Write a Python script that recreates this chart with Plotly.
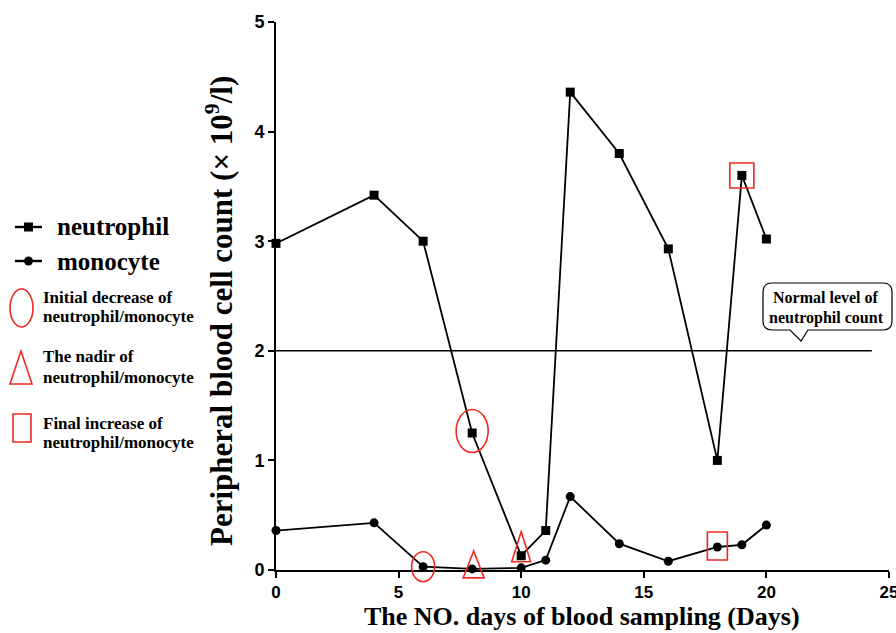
import plotly.graph_objects as go

# ---- data ----
days = [0, 4, 6, 8, 10, 11, 12, 14, 16, 18, 19, 20]
neutrophil = [2.98, 3.42, 3.00, 1.25, 0.13, 0.36, 4.36, 3.80, 2.93, 1.00, 3.60, 3.02]
monocyte = [0.36, 0.43, 0.03, 0.01, 0.02, 0.09, 0.67, 0.24, 0.08, 0.21, 0.23, 0.41]
normal_level = 2.0
normal_end = 24.3
x_range = [0, 25]
y_range = [0, 5]
x_ticks = [0, 5, 10, 15, 20, 25]
y_ticks = [0, 1, 2, 3, 4, 5]

# highlights: (series, day)
initial_decrease = [("monocyte", 6), ("neutrophil", 8)]
nadir = [("monocyte", 8), ("neutrophil", 10)]
final_increase = [("monocyte", 18), ("neutrophil", 19)]

series = {"neutrophil": neutrophil, "monocyte": monocyte}
def val(s, d):
    return series[s][days.index(d)]

# page body margin is removed by post_script, so figure fills the window
W, H = 896, 633
# plot area in window pixels
L, R, T, B = 276, 889, 22, 570
def px(x):
    return (x - L) / (R - L)
def py(y):
    return (B - y) / (B - T)
# data -> paper fraction
def dxp(d):
    return (d - x_range[0]) / (x_range[1] - x_range[0])
def dyp(v):
    return (v - y_range[0]) / (y_range[1] - y_range[0])
PW, PH = R - L, B - T

RED = "#ee2a24"
SERIF = "Liberation Serif"
SANS = "Liberation Sans"

fig = go.Figure()
fig.add_trace(go.Scatter(x=days, y=neutrophil, mode="lines+markers", name="neutrophil",
                         line=dict(color="black", width=1.8),
                         marker=dict(symbol="square", size=9, color="black"),
                         cliponaxis=False))
fig.add_trace(go.Scatter(x=days, y=monocyte, mode="lines+markers", name="monocyte",
                         line=dict(color="black", width=1.8),
                         marker=dict(symbol="circle", size=9, color="black"),
                         cliponaxis=False))

shapes = []
# normal level line
shapes.append(dict(type="line", xref="x", yref="y", x0=0, x1=normal_end, y0=normal_level,
                   y1=normal_level, line=dict(color="black", width=1.5)))

# red highlight shapes (offsets in pixels around the data point)
ell_sizes = [(23, 30, 0), (32, 43, 2)]
for (s, d), (w, h, dy) in zip(initial_decrease, ell_sizes):
    cx, cy = dxp(d), dyp(val(s, d))
    shapes.append(dict(type="circle", xref="paper", yref="paper",
                       x0=cx - w/2/PW, x1=cx + w/2/PW, y0=cy + (dy - h/2)/PH, y1=cy + (dy + h/2)/PH,
                       line=dict(color=RED, width=1.6)))
tri_sizes = [(21, -9, 18, 1.5), (19, -6, 24, 0)]
for (s, d), (w, b, t, dx) in zip(nadir, tri_sizes):
    cx, cy = dxp(d) + dx/PW, dyp(val(s, d))
    path = (f"M {cx - w/2/PW},{cy + b/PH} L {cx + w/2/PW},{cy + b/PH} "
            f"L {cx},{cy + t/PH} Z")
    shapes.append(dict(type="path", xref="paper", yref="paper", path=path,
                       line=dict(color=RED, width=1.6)))
sq_sizes = [(20, 28, 1), (24, 25, 0)]
for (s, d), (w, h, dy) in zip(final_increase, sq_sizes):
    cx, cy = dxp(d), dyp(val(s, d))
    shapes.append(dict(type="rect", xref="paper", yref="paper",
                       x0=cx - w/2/PW, x1=cx + w/2/PW, y0=cy + (dy - h/2)/PH, y1=cy + (dy + h/2)/PH,
                       line=dict(color=RED, width=1.6)))

# legend symbols (paper coords)
for yy, sym in [(227, "square"), (261, "circle")]:
    shapes.append(dict(type="line", xref="paper", yref="paper", x0=px(15), x1=px(42),
                       y0=py(yy), y1=py(yy), line=dict(color="black", width=2.4)))
    shapes.append(dict(type="rect" if sym == "square" else "circle", xref="paper", yref="paper",
                       x0=px(24), x1=px(33), y0=py(yy + 4.5), y1=py(yy - 4.5),
                       fillcolor="black", line=dict(color="black", width=0)))
shapes.append(dict(type="circle", xref="paper", yref="paper", x0=px(10), x1=px(33),
                   y0=py(327), y1=py(289), line=dict(color=RED, width=1.6)))
shapes.append(dict(type="path", xref="paper", yref="paper",
                   path=f"M {px(10)},{py(384)} L {px(32)},{py(384)} L {px(21)},{py(351)} Z",
                   line=dict(color=RED, width=1.6)))
shapes.append(dict(type="rect", xref="paper", yref="paper", x0=px(13), x1=px(31),
                   y0=py(442), y1=py(414), line=dict(color=RED, width=1.6)))

# callout box
bx0, bx1, by0, by1, r = 763, 892, 283, 330, 9
tipx, tipy = 801, 341
pts = [
    f"M {px(bx0 + r)},{py(by0)}",
    f"L {px(bx1 - r)},{py(by0)}",
    f"Q {px(bx1)},{py(by0)} {px(bx1)},{py(by0 + r)}",
    f"L {px(bx1)},{py(by1 - r)}",
    f"Q {px(bx1)},{py(by1)} {px(bx1 - r)},{py(by1)}",
    f"L {px(808)},{py(by1)}",
    f"L {px(tipx)},{py(tipy)}",
    f"L {px(790)},{py(by1)}",
    f"L {px(bx0 + r)},{py(by1)}",
    f"Q {px(bx0)},{py(by1)} {px(bx0)},{py(by1 - r)}",
    f"L {px(bx0)},{py(by0 + r)}",
    f"Q {px(bx0)},{py(by0)} {px(bx0 + r)},{py(by0)} Z",
]
shapes.append(dict(type="path", xref="paper", yref="paper", path=" ".join(pts),
                   fillcolor="white", line=dict(color="black", width=1.2)))

annotations = []
def txt(x, y, s, size, xanchor="left", angle=0):
    annotations.append(dict(xref="paper", yref="paper", x=px(x), y=py(y), text=s,
                            showarrow=False, xanchor=xanchor, yanchor="middle", textangle=angle,
                            font=dict(family=SERIF, size=size, color="black", weight="bold")))

txt(55, 227, "neutrophil", 25)
txt(55, 261, "monocyte", 25)
txt(41, 297, "Initial decrease of", 17)
txt(41, 317, "neutrophil/monocyte", 17)
txt(41, 356, "The nadir of", 17)
txt(41, 377, "neutrophil/monocyte", 17)
txt(41, 423, "Final increase of", 17)
txt(41, 442, "neutrophil/monocyte", 17)
txt(826, 298, "Normal level of", 16, "center")
txt(826, 318, "neutrophil count", 16, "center")
# axis titles
txt(582, 616, "The NO. days of blood sampling (Days)", 26, "center")
txt(219, 311, "Peripheral blood cell count (× 10<sup>9</sup>/l)", 31, "center", -90)

fig.update_layout(
    width=W, height=H,
    margin=dict(l=L, r=W - R, t=T, b=H - B, pad=0, autoexpand=False),
    paper_bgcolor="white", plot_bgcolor="white",
    showlegend=False,
    shapes=shapes, annotations=annotations,
    xaxis=dict(range=x_range, tickvals=x_ticks, showgrid=False, zeroline=False, automargin=False,
               showline=True, linecolor="black", linewidth=2, ticks="outside",
               ticklen=6, tickwidth=2, tickcolor="black", ticklabeloverflow="allow",
               tickfont=dict(family=SANS, size=17, color="black", weight="bold")),
    yaxis=dict(range=y_range, tickvals=y_ticks, showgrid=False, zeroline=False, automargin=False,
               showline=True, linecolor="black", linewidth=2, ticks="outside",
               ticklen=6, tickwidth=2, tickcolor="black",
               tickfont=dict(family=SANS, size=18, color="black", weight="bold")),
)

fig.write_html("out.html", config={"displayModeBar": False},
               post_script="document.body.style.margin='0';document.body.style.overflow='hidden';")
